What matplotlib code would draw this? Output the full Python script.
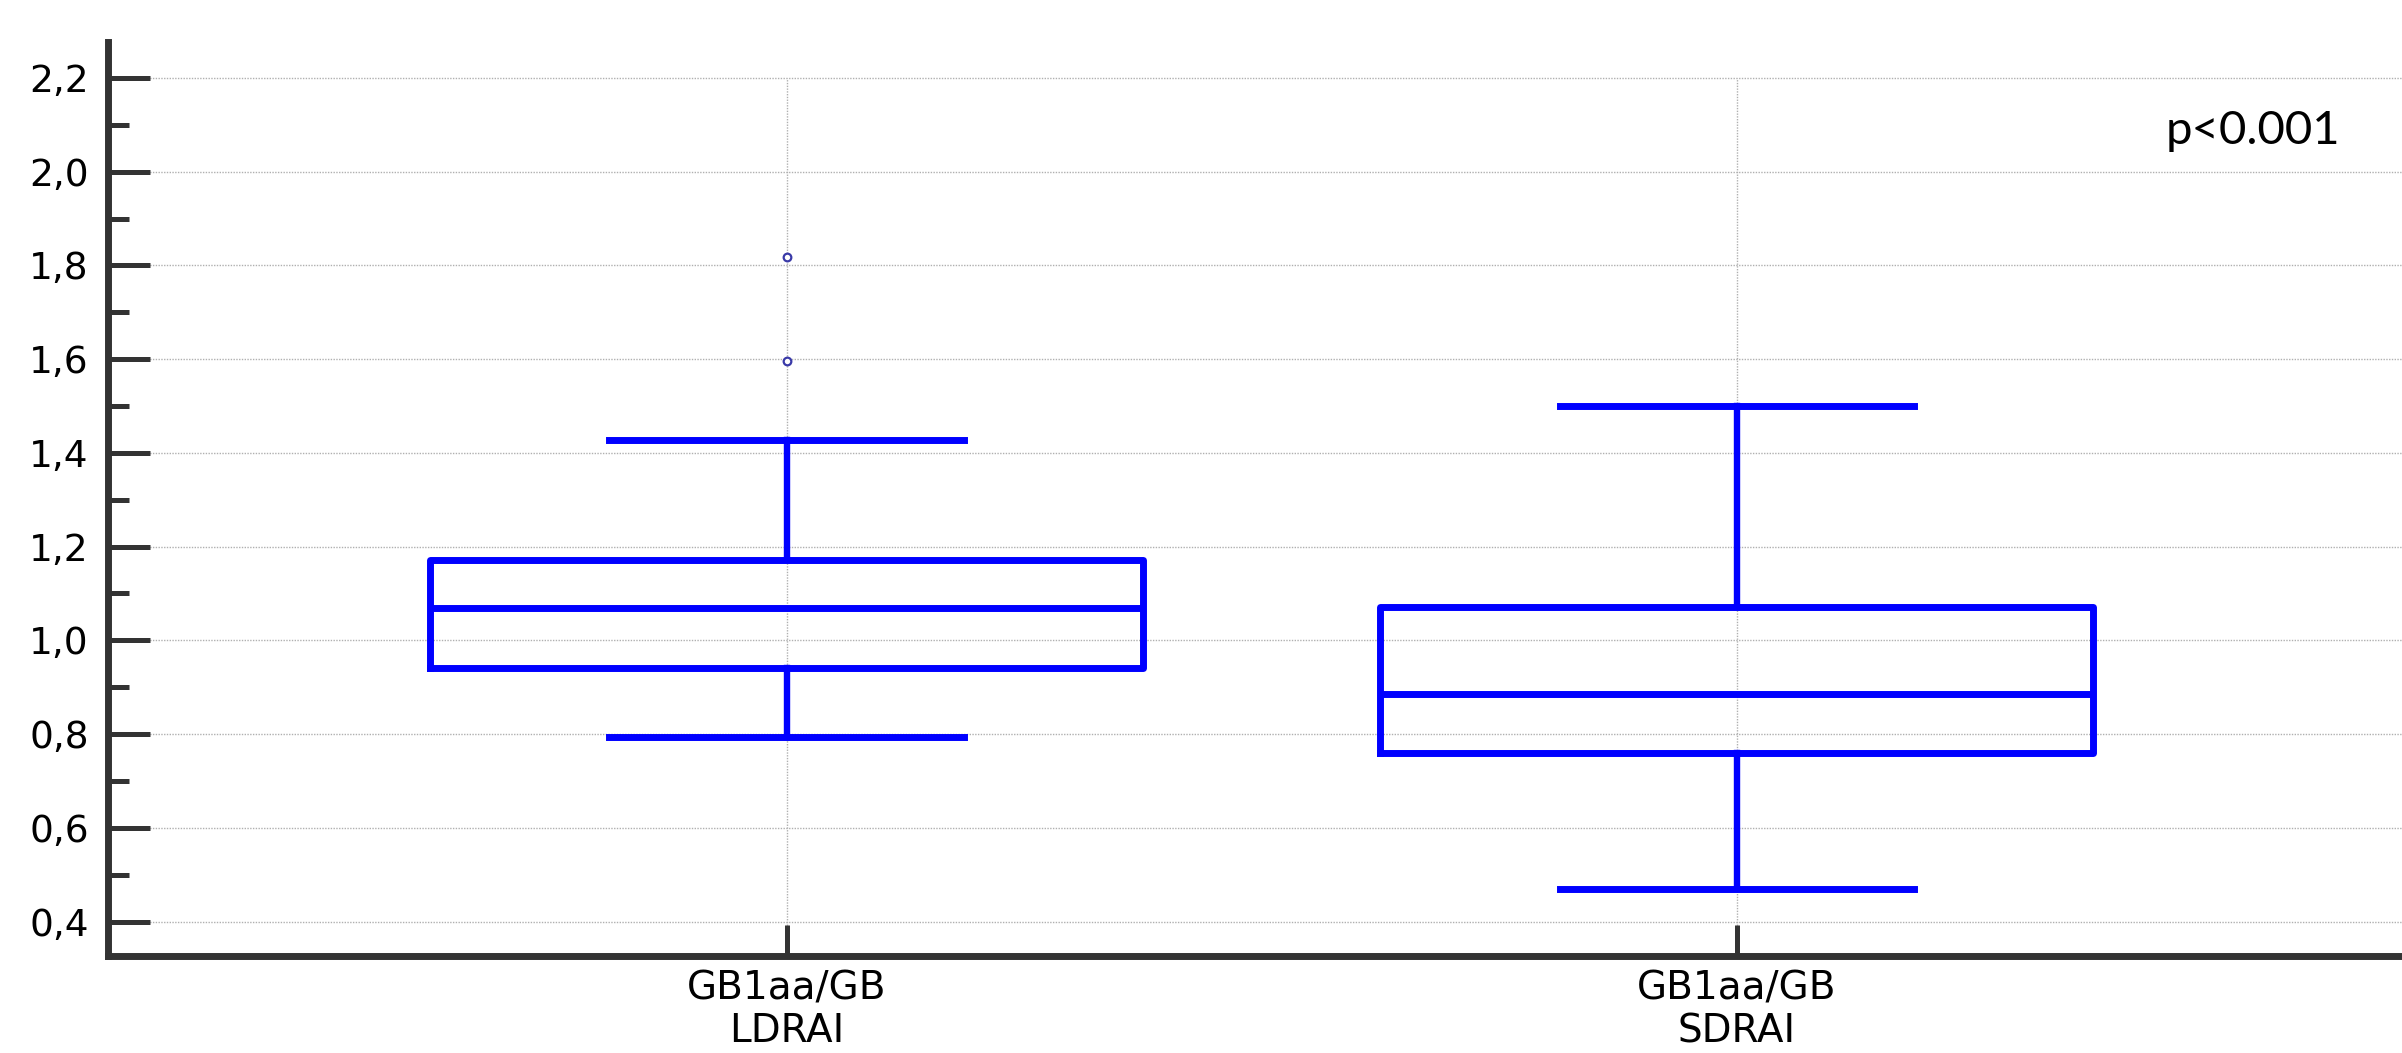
import matplotlib
matplotlib.use("Agg")
import matplotlib.pyplot as plt
from matplotlib.ticker import MultipleLocator, FuncFormatter

# values
groups = ["GB1aa/GB\nLDRAI", "GB1aa/GB\nSDRAI"]
q1 = [0.942, 0.760]
medians = [1.070, 0.886]
q3 = [1.172, 1.072]
whis_lo = [0.794, 0.470]
whis_hi = [1.428, 1.500]
outliers = [[1.817, 1.595], []]
p_text = "p<0.001"

positions = [1, 2]
blue = "#0000ff"
dark = "#333333"

stats = []
for i in range(len(groups)):
    stats.append({"med": medians[i], "q1": q1[i], "q3": q3[i],
                  "whislo": whis_lo[i], "whishi": whis_hi[i],
                  "fliers": outliers[i], "label": groups[i]})

fig = plt.figure(figsize=(24.02, 10.53), dpi=100)
ax = fig.add_axes([0.045, 0.0921, 0.955, 0.8684])

ax.bxp(stats, positions=positions, widths=0.75, capwidths=0.373,
       boxprops=dict(color=blue, linewidth=5.0),
       medianprops=dict(color=blue, linewidth=5.0),
       whiskerprops=dict(color=blue, linewidth=4.6),
       capprops=dict(color=blue, linewidth=5.0),
       flierprops=dict(marker="o", markersize=5.5, markerfacecolor="white",
                       markeredgecolor="#3a3aa8", markeredgewidth=1.6),
       zorder=3)

ax.set_xlim(0.286, 2.70)
ax.set_ylim(0.3264, 2.2775)

ax.yaxis.set_major_locator(MultipleLocator(0.2))
ax.yaxis.set_minor_locator(MultipleLocator(0.1))
ax.yaxis.set_major_formatter(FuncFormatter(lambda v, p: f"{v:.1f}".replace(".", ",")))
ax.set_xticks(positions)
ax.set_xticklabels(groups)

# grid
ax.grid(axis="y", which="major", color="#b0b0b0", linestyle=(0, (1, 1)), linewidth=1.0, zorder=0)
ax.vlines(positions, 0.3264, 2.2, colors="#b0b0b0", linestyles=(0, (1, 1)), linewidth=1.0, zorder=0)

for s in ["top", "right"]:
    ax.spines[s].set_visible(False)
for s in ["left", "bottom"]:
    ax.spines[s].set_color(dark)
    ax.spines[s].set_linewidth(5)

ax.tick_params(axis="y", which="major", direction="in", length=30, width=3.6, color=dark, pad=14)
ax.tick_params(axis="y", which="minor", direction="in", length=15, width=3.6, color=dark)
ax.tick_params(axis="x", which="major", direction="in", length=22, width=3.6, color=dark, pad=10)

for lab in ax.get_yticklabels():
    lab.set_fontfamily(["DejaVu Sans"])
    lab.set_fontsize(27)
    lab.set_color("#000000")
for lab in ax.get_xticklabels():
    lab.set_fontfamily(["DejaVu Sans"])
    lab.set_fontsize(28)
    lab.set_linespacing(1.15)
    lab.set_color("#000000")

ax.text(2.543, 2.058, p_text, ha="center", va="baseline", fontsize=34,
        family=["Lato", "DejaVu Sans"], color="black")

fig.savefig("out.png", dpi=100)
